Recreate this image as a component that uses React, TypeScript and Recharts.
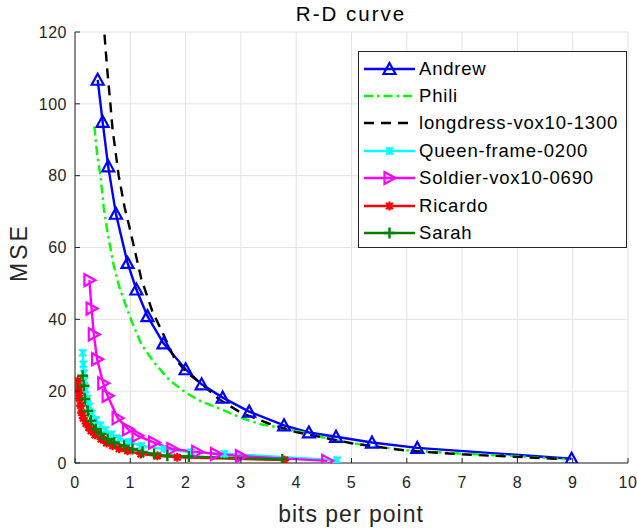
import { LineChart, Line, XAxis, YAxis, CartesianGrid } from "recharts"

// values
const andrewX = [0.41, 0.5, 0.6, 0.74, 0.95, 1.11, 1.31, 1.6, 2.0, 2.29, 2.67, 3.15, 3.78, 4.23, 4.72, 5.37, 6.19, 8.98]
const andrewY = [106.7, 95, 82.6, 69.4, 55.7, 48.3, 40.9, 33.3, 26.1, 21.9, 18.2, 14.3, 10.5, 8.5, 7.3, 5.7, 4.2, 1.2]

const philiX = [0.35, 0.4, 0.46, 0.52, 0.59, 0.7, 0.8, 1.01, 1.2, 1.43, 1.7, 2.0, 2.3, 2.64, 3.0, 3.36, 4.0, 4.5, 5.0, 6.0, 7.0, 8.0, 8.95]
const philiY = [93.7, 86, 80, 71, 64, 55, 49, 40, 33, 28, 23.2, 19.6, 17, 15, 12.6, 10.8, 9.0, 7.1, 5.5, 3.5, 2.6, 1.9, 1.0]

const longdressX = [0.51, 0.53, 0.58, 0.64, 0.68, 0.79, 0.9, 0.98, 1.2, 1.4, 1.61, 1.79, 2.0, 2.29, 2.6, 3.0, 3.5, 4.0, 5.0, 6.0, 7.0, 8.0, 8.8]
const longdressY = [124, 120, 110, 100, 92.8, 80, 71, 66, 51.2, 42.2, 35.4, 29.4, 25.5, 22, 17.8, 14, 11, 8.6, 5.5, 3.4, 2.4, 1.7, 1.1]

const queenX = [0.14, 0.15, 0.16, 0.17, 0.19, 0.22, 0.26, 0.31, 0.38, 0.46, 0.55, 0.66, 0.8, 0.97, 1.2, 1.61, 2.1, 2.7, 4.74]
const queenY = [30.7, 27.5, 25, 23, 20.5, 18, 15.8, 13.8, 12, 10.5, 9.2, 8, 6.9, 5.9, 4.8, 3.9, 3.0, 2.6, 0.8]

const soldierX = [0.26, 0.3, 0.34, 0.4, 0.51, 0.59, 0.77, 0.96, 1.13, 1.43, 1.76, 2.21, 2.55, 3.0, 4.56]
const soldierY = [50.9, 43, 35.8, 28.9, 22.2, 18.7, 12.5, 9.4, 7.6, 5.7, 3.9, 3.1, 2.5, 1.9, 0.6]

const ricardoX = [0.05, 0.06, 0.07, 0.08, 0.1, 0.12, 0.15, 0.2, 0.25, 0.29, 0.36, 0.47, 0.57, 0.68, 0.8, 0.95, 1.19, 1.49, 1.85, 3.79]
const ricardoY = [22.9, 21, 19.5, 18, 16, 14, 12.5, 11, 9.9, 9, 7.9, 6.7, 5.6, 4.8, 4, 3.4, 2.5, 2.0, 1.6, 0.8]

const sarahX = [0.14, 0.16, 0.18, 0.23, 0.29, 0.38, 0.47, 0.59, 0.71, 0.89, 1.04, 1.22, 1.43, 1.67, 2.06, 3.75]
const sarahY = [24.3, 21.5, 17.8, 14.5, 11.8, 9.4, 8.1, 6.7, 5.7, 4.8, 3.9, 3.1, 2.5, 2.0, 1.8, 1.0]

const xTicks = [0, 1, 2, 3, 4, 5, 6, 7, 8, 9, 10]
const yTicks = [0, 20, 40, 60, 80, 100, 120]

type Marker = "triUp" | "triRight" | "x" | "star" | "plus" | "none"

const toPoints = (xs: number[], ys: number[]) => xs.map((x, i) => ({ x, y: ys[i] }))

const SERIES: { name: string; xs: number[]; ys: number[]; color: string; dash?: string; marker: Marker }[] = [
  { name: "Andrew", xs: andrewX, ys: andrewY, color: "#0000ff", marker: "triUp" },
  { name: "Phili", xs: philiX, ys: philiY, color: "#00ff00", dash: "9 4 2.5 4", marker: "none" },
  { name: "longdress-vox10-1300", xs: longdressX, ys: longdressY, color: "#000000", dash: "10 7", marker: "none" },
  { name: "Queen-frame-0200", xs: queenX, ys: queenY, color: "#00ffff", marker: "x" },
  { name: "Soldier-vox10-0690", xs: soldierX, ys: soldierY, color: "#ff00ff", marker: "triRight" },
  { name: "Ricardo", xs: ricardoX, ys: ricardoY, color: "#ff0000", marker: "star" },
  { name: "Sarah", xs: sarahX, ys: sarahY, color: "#008000", marker: "plus" },
]

const FONT = "'Liberation Sans', Arial, sans-serif"
const TEXT = "#262626"
const LW = 2.4

function MarkerShape({ type, cx, cy, color }: { type: Marker; cx: number; cy: number; color: string }) {
  switch (type) {
    case "triUp":
      return <path d={`M${cx},${cy - 6} L${cx + 6},${cy + 5} L${cx - 6},${cy + 5} Z`} fill="none" stroke={color} strokeWidth={2.2} />
    case "triRight":
      return <path d={`M${cx + 6},${cy} L${cx - 5},${cy - 6} L${cx - 5},${cy + 6} Z`} fill="none" stroke={color} strokeWidth={2.2} />
    case "x":
      return <path d={`M${cx - 3.5},${cy - 3.5} L${cx + 3.5},${cy + 3.5} M${cx - 3.5},${cy + 3.5} L${cx + 3.5},${cy - 3.5} M${cx},${cy - 4} L${cx},${cy + 4}`} stroke={color} strokeWidth={2.2} />
    case "star":
      return (
        <g>
          <circle cx={cx} cy={cy} r={3} fill={color} />
          <path d={`M${cx - 4.5},${cy} L${cx + 4.5},${cy} M${cx},${cy - 4.5} L${cx},${cy + 4.5} M${cx - 3.3},${cy - 3.3} L${cx + 3.3},${cy + 3.3} M${cx - 3.3},${cy + 3.3} L${cx + 3.3},${cy - 3.3}`} stroke={color} strokeWidth={2.2} />
        </g>
      )
    case "plus":
      return <path d={`M${cx - 5.5},${cy} L${cx + 5.5},${cy} M${cx},${cy - 5.5} L${cx},${cy + 5.5}`} stroke={color} strokeWidth={2.4} />
    default:
      return null
  }
}

function YTick(props: any) {
  const { x, y, payload } = props
  return (
    <g>
      <line x1={x + 8} x2={x + 13} y1={y} y2={y} stroke={TEXT} />
      <text x={x} y={y} dy="0.36em" textAnchor="end" fontSize={16} letterSpacing={0.5} fill={TEXT} fontFamily={FONT}>
        {payload.value}
      </text>
    </g>
  )
}

function XTick(props: any) {
  const { x, y, payload } = props
  return (
    <g>
      <line x1={x} x2={x} y1={y - 25} y2={y - 30} stroke={TEXT} />
      <text x={x} y={y} textAnchor="middle" fontSize={16} letterSpacing={0.5} fill={TEXT} fontFamily={FONT}>
        {payload.value}
      </text>
    </g>
  )
}

function LegendBox() {
  return (
    <div
      style={{
        position: "absolute",
        left: 358,
        top: 51,
        width: 269,
        height: 197,
        boxSizing: "border-box",
        border: `1px solid ${TEXT}`,
        background: "#fff",
        fontFamily: FONT,
        fontSize: 18.5,
        letterSpacing: 0.8,
        color: "#000",
      }}
    >
      {SERIES.map((s, i) => (
        <div
          key={s.name}
          style={{ position: "absolute", left: 5, top: 3 + i * 27.4, height: 27.4, display: "flex", alignItems: "center" }}
        >
          <svg width={51} height={16} style={{ display: "block" }}>
            <line x1={0} x2={51} y1={8} y2={8} stroke={s.color} strokeWidth={LW} strokeDasharray={s.dash} />
            <MarkerShape type={s.marker} cx={25.5} cy={8} color={s.color} />
          </svg>
          <span style={{ marginLeft: 4, whiteSpace: "nowrap" }}>{s.name}</span>
        </div>
      ))}
    </div>
  )
}

export default function App() {
  return (
    <div style={{ position: "absolute", left: 0, top: 0, width: 637, height: 529, background: "#fff" }}>
      <LineChart width={637} height={529} margin={{ top: 32, right: 9, bottom: 0, left: 0 }}>
        <CartesianGrid stroke="#e3e3e3" strokeWidth={1} />
        <XAxis
          type="number"
          dataKey="x"
          domain={[0, 10]}
          ticks={xTicks}
          allowDataOverflow
          height={66}
          tickSize={0}
          tickMargin={25}
          tick={<XTick />}
          axisLine={{ stroke: TEXT }}
          interval={0}
        />
        <YAxis
          type="number"
          dataKey="y"
          domain={[0, 120]}
          ticks={yTicks}
          allowDataOverflow
          width={75}
          tickSize={0}
          tickMargin={8}
          tick={<YTick />}
          axisLine={{ stroke: TEXT }}
          interval={0}
        />
        {SERIES.map((s) => (
          <Line
            key={s.name}
            data={toPoints(s.xs, s.ys)}
            dataKey="y"
            name={s.name}
            type="linear"
            stroke={s.color}
            strokeWidth={LW}
            strokeDasharray={s.dash}
            isAnimationActive={false}
            dot={
              s.marker === "none"
                ? false
                : (p: any) => <MarkerShape key={`${s.name}-${p.index}`} type={s.marker} cx={p.cx} cy={p.cy} color={s.color} />
            }
            activeDot={false}
          />
        ))}
      </LineChart>
      <svg width={637} height={529} style={{ position: "absolute", left: 0, top: 0, pointerEvents: "none" }}>
        <text x={351} y={21} textAnchor="middle" fontSize={20.5} letterSpacing={2} fill="#000" fontFamily={FONT}>
          R-D curve
        </text>
        <text x={351} y={521.5} textAnchor="middle" fontSize={23} letterSpacing={1} fill={TEXT} fontFamily={FONT}>
          bits per point
        </text>
        <text
          x={0}
          y={0}
          transform="translate(26.5,252.5) rotate(-90)"
          textAnchor="middle"
          fontSize={23}
          letterSpacing={3}
          fill={TEXT}
          fontFamily={FONT}
        >
          MSE
        </text>
      </svg>
      <LegendBox />
    </div>
  )
}
